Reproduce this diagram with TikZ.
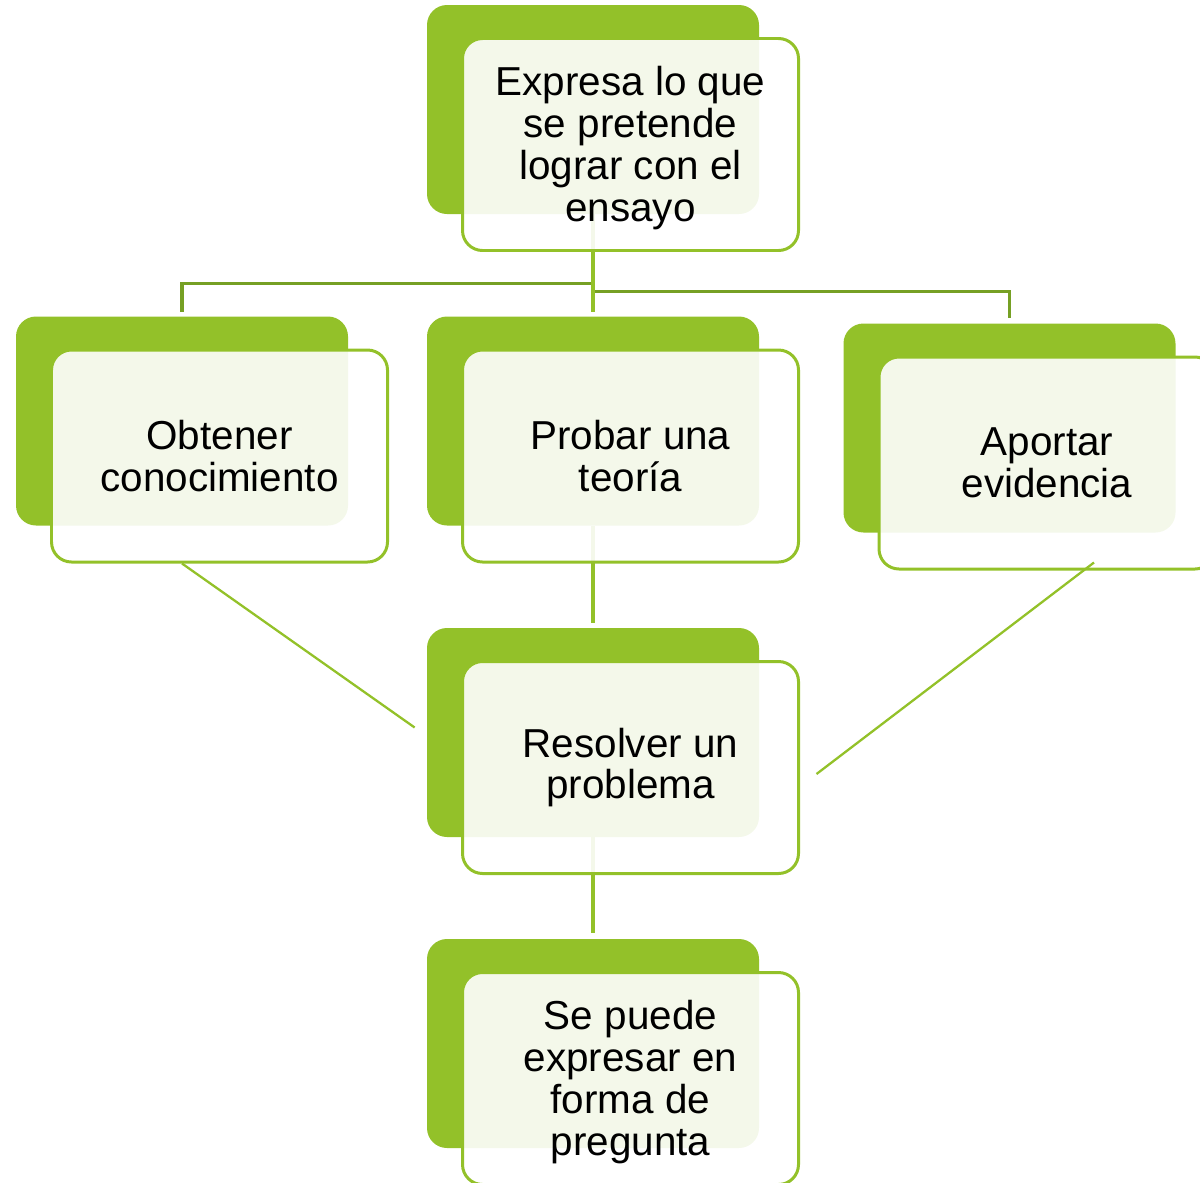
\documentclass[tikz,border=0pt]{standalone}
\usepackage{fontspec}
\setmainfont{Liberation Sans}
\usepackage{xcolor}
\usetikzlibrary{backgrounds}

\definecolor{leafgreen}{RGB}{147,193,41}
\definecolor{stemgreen}{RGB}{118,160,36}

\begin{document}
\begin{tikzpicture}[
    backcard/.style={rectangle, rounded corners=0.4cm, fill=leafgreen, minimum width=6.64cm, minimum height=4.18cm, inner sep=0pt},
    frontcard/.style={rectangle, rounded corners=0.4cm, draw=leafgreen, line width=1.7pt, fill=white, fill opacity=0.9, text opacity=1, minimum width=6.72cm, minimum height=4.24cm, inner sep=0pt, align=center, font=\fontsize{23}{23.8}\selectfont},
    stem/.style={draw=stemgreen, line width=2pt},
    twig/.style={draw=leafgreen, line width=2pt},
    vine/.style={draw=leafgreen, line width=1.3pt}]
    \useasboundingbox (0,0) rectangle (24,-23.64);
    \clip (0,0) rectangle (24,-23.64);

    % Back cards
    \node[backcard] (expB) at (11.86, -2.19) {};
    \node[backcard] (obtB) at (3.64, -8.42) {};
    \node[backcard] (proB) at (11.86, -8.42) {};
    \node[backcard] (aptB) at (20.19, -8.56) {};
    \node[backcard] (resB) at (11.86, -14.65) {};
    \node[backcard] (preB) at (11.86, -20.87) {};

    % Front cards
    \node[frontcard] (expF) at ([shift={(0.75,-0.7)}]expB) {\rule{0pt}{0.9em}Expresa lo que\\se pretende\\lograr con el\\ensayo};
    \node[frontcard] (obtF) at ([shift={(0.75,-0.7)}]obtB) {Obtener\\conocimiento};
    \node[frontcard] (proF) at ([shift={(0.75,-0.7)}]proB) {Probar una\\teoría};
    \node[frontcard] (aptF) at ([shift={(0.75,-0.7)}]aptB) {Aportar\\evidencia};
    \node[frontcard] (resF) at ([shift={(0.75,-0.7)}]resB) {Resolver un\\problema};
    \node[frontcard] (preF) at ([shift={(0.75,-0.7)}]preB) {\rule{0pt}{0.9em}Se puede\\expresar en\\forma de\\pregunta};

    \begin{pgfonlayer}{background}
        \draw[stem, shorten >=0.08cm] (expB.south) -- ++(0,-1.38) -| (obtB.north);
        \draw[stem, shorten >=0.1cm] (expB.south) -- ++(0,-1.54) -| (aptB.north);
        \draw[twig, shorten >=0.08cm] (expB.south) -- (proB.north);
        \draw[twig, shorten >=0.1cm] (proB.south) -- (resB.north);
        \draw[twig, shorten >=0.12cm] (resB.south) -- (preB.north);
    \end{pgfonlayer}

    \draw[vine] (obtB.south |- obtF.south) -- ([shift={(-0.24,0.1)}]resB.west);
    \draw[vine] ([shift={(0.94,0.16)}]aptF.south) -- ([shift={(0.33,-0.13)}]resF.east);
\end{tikzpicture}
\end{document}
